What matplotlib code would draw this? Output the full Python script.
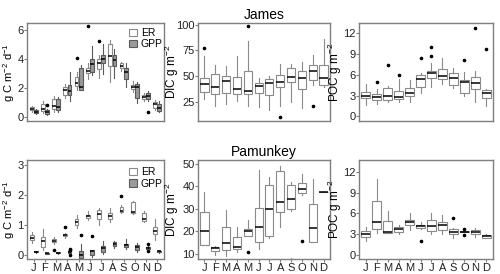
import numpy as np
from matplotlib import pyplot as plt

plt.rcParams['font.family'] = ['Liberation Sans', 'DejaVu Sans']
plt.rcParams['mathtext.fontset'] = 'custom'
plt.rcParams['mathtext.rm'] = 'Liberation Sans'
plt.rcParams['mathtext.it'] = 'Liberation Sans:italic'

months = ['J', 'F', 'M', 'A', 'M', 'J', 'J', 'A', 'S', 'O', 'N', 'D']

# James ER / GPP  (q1, med, q3, whisker lo, whisker hi)
james_er_q1 = [0.5, 0.45, 0.6, 1.55, 2.15, 3.05, 3.3, 3.5, 3.35, 1.95, 1.25, 0.65]
james_er_med = [0.6, 0.6, 0.8, 1.9, 2.35, 3.2, 3.7, 4.2, 3.55, 2.1, 1.4, 0.9]
james_er_q3 = [0.7, 0.9, 1.25, 2.1, 2.75, 3.4, 4.0, 5.0, 3.7, 2.2, 1.55, 1.05]
james_er_lo = [0.4, 0.3, 0.4, 1.3, 1.9, 2.6, 2.7, 2.4, 3.2, 1.75, 1.1, 0.5]
james_er_hi = [0.8, 1.1, 1.5, 2.3, 3.1, 3.7, 4.3, 5.3, 3.8, 2.5, 1.7, 1.2]
james_er_out = [[], [], [], [], [4.05], [6.25], [5.2], [], [], [], [], []]

james_gpp_q1 = [0.3, 0.25, 0.5, 1.55, 1.9, 3.1, 3.7, 3.5, 2.6, 1.35, 1.25, 0.45]
james_gpp_med = [0.4, 0.35, 0.7, 1.8, 2.05, 3.65, 4.0, 3.9, 3.1, 2.05, 1.5, 0.65]
james_gpp_q3 = [0.5, 0.5, 1.25, 2.25, 3.4, 4.0, 4.3, 4.3, 3.35, 2.3, 1.65, 0.9]
james_gpp_lo = [0.25, 0.15, 0.35, 1.1, 1.9, 2.9, 3.0, 2.7, 2.1, 1.0, 1.1, 0.35]
james_gpp_hi = [0.55, 0.6, 1.4, 3.1, 3.6, 4.9, 5.0, 4.7, 3.7, 2.4, 1.8, 1.15]
james_gpp_out = [[], [0.85], [], [], [], [], [], [], [], [], [0.4], []]

# James DIC
james_dic_q1 = [34, 32, 33, 32, 32, 33, 31, 39, 44, 37, 46, 41]
james_dic_med = [42, 39, 45, 37, 35, 40, 43, 44, 49, 48, 55, 48]
james_dic_q3 = [48, 52, 50, 49, 55, 43, 47, 51, 58, 55, 61, 61]
james_dic_lo = [28, 21, 23, 26, 21, 20, 17, 21, 25, 19, 41, 39]
james_dic_hi = [69, 61, 60, 69, 84, 48, 50, 62, 62, 64, 70, 86]
james_dic_out = [[77], [], [], [], [99], [], [], [10], [], [], [21], []]

# James POC
james_poc_q1 = [2.6, 2.3, 2.4, 2.5, 2.9, 4.2, 5.5, 5.3, 4.5, 3.4, 4.0, 2.6]
james_poc_med = [3.0, 2.8, 3.0, 2.8, 3.4, 5.3, 6.2, 5.8, 5.5, 4.9, 4.8, 3.3]
james_poc_q3 = [3.5, 3.2, 4.1, 3.7, 4.1, 6.0, 6.5, 6.8, 6.3, 5.2, 5.7, 3.8]
james_poc_lo = [1.6, 1.8, 2.0, 2.0, 2.1, 3.3, 4.2, 4.6, 4.1, 2.9, 2.0, 1.5]
james_poc_hi = [4.6, 3.9, 4.4, 5.3, 5.2, 6.2, 7.6, 8.4, 7.0, 6.4, 6.5, 4.0]
james_poc_out = [[], [5.0], [7.4], [5.9], [], [8.4], [8.7, 10.0], [], [], [8.1], [12.7], [9.7]]

# Pamunkey ER / GPP
pam_er_q1 = [0.5, 0.25, 0.42, 0.62, 1.0, 1.22, 1.2, 1.2, 1.43, 1.38, 1.12, 0.7]
pam_er_med = [0.58, 0.47, 0.48, 0.65, 1.1, 1.28, 1.35, 1.28, 1.45, 1.43, 1.2, 0.8]
pam_er_q3 = [0.68, 0.6, 0.53, 0.7, 1.2, 1.33, 1.5, 1.38, 1.6, 1.75, 1.4, 0.92]
pam_er_lo = [0.4, 0.15, 0.38, 0.58, 0.9, 1.15, 1.0, 1.1, 1.4, 1.35, 1.08, 0.5]
pam_er_hi = [0.75, 0.85, 0.6, 0.72, 1.32, 1.45, 1.55, 1.55, 1.65, 1.8, 1.47, 1.2]
pam_er_out = [[], [], [0.15], [0.93], [], [], [], [], [1.97], [], [], []]

pam_gpp_q1 = [0.09, 0.05, 0.06, 0.07, -0.1, 0.0, 0.1, 0.3, 0.27, 0.15, 0.2, 0.1]
pam_gpp_med = [0.1, 0.06, 0.08, 0.1, 0.0, 0.12, 0.22, 0.37, 0.32, 0.25, 0.23, 0.12]
pam_gpp_q3 = [0.12, 0.07, 0.09, 0.12, 0.12, 0.15, 0.3, 0.42, 0.38, 0.32, 0.25, 0.13]
pam_gpp_lo = [0.08, 0.04, 0.05, 0.07, -0.13, -0.05, 0.05, 0.22, 0.2, 0.1, 0.18, 0.08]
pam_gpp_hi = [0.13, 0.08, 0.1, 0.12, 0.35, 0.17, 0.45, 0.48, 0.52, 0.4, 0.3, 0.15]
pam_gpp_out = [[], [], [], [0.2, 0.15, 0.0], [0.67], [0.62], [], [], [], [], [0.38, 0.12], []]

# Pamunkey DIC
pam_dic_q1 = [14, 11, 11.5, 12, 18, 15, 18, 28.5, 30, 37, 15, 37.5]
pam_dic_med = [20, 12.5, 14.5, 13, 20, 22, 30, 33, 34.5, 39, 21.5, 37.5]
pam_dic_q3 = [28.5, 13, 22, 17.5, 21, 30.5, 40.5, 47, 40.5, 41.5, 32, 37.5]
pam_dic_lo = [14, 9.5, 9, 10.5, 18, 12, 17, 22, 29, 36, 15, 37.5]
pam_dic_hi = [37.5, 13.5, 29.5, 22, 25, 47.5, 44, 49, 42, 45.5, 43.5, 37.5]
pam_dic_out = [[], [], [], [], [10.5], [], [], [], [7], [15.5], [], []]

# Pamunkey POC
pam_poc_q1 = [2.6, 3.8, 3.2, 3.3, 4.3, 3.9, 3.5, 3.6, 3.0, 3.4, 3.0, 2.5]
pam_poc_med = [3.1, 4.7, 3.3, 3.7, 4.8, 4.2, 4.2, 4.3, 3.4, 3.4, 3.3, 2.7]
pam_poc_q3 = [3.5, 7.8, 4.9, 4.1, 5.1, 4.4, 5.1, 4.7, 3.8, 3.45, 3.6, 2.9]
pam_poc_lo = [2.0, 3.2, 3.2, 3.0, 3.6, 3.7, 3.1, 3.0, 2.4, 3.4, 2.6, 2.4]
pam_poc_hi = [4.1, 10.9, 6.4, 4.4, 6.1, 4.8, 6.1, 5.8, 3.9, 3.45, 3.9, 3.1]
pam_poc_out = [[], [], [], [], [], [2.0], [], [], [5.4], [3.8, 2.9], [], []]

FRAME = '#7f7f7f'


def make_stats(q1, med, q3, lo, hi, out):
	stats = []
	for k in range(len(med)):
		stats.append({'q1': q1[k], 'med': med[k], 'q3': q3[k],
		              'whislo': lo[k], 'whishi': hi[k], 'fliers': out[k]})
	return stats


def draw_box(ax, stats, pos, width, face, edge):
	ax.bxp(stats, positions=pos, widths=width, patch_artist=True, manage_ticks=False,
	       boxprops=dict(facecolor=face, edgecolor=edge, linewidth=0.8),
	       whiskerprops=dict(color=edge, linewidth=0.8),
	       capprops=dict(linewidth=0),
	       medianprops=dict(color='black', linewidth=1.1),
	       flierprops=dict(marker='o', markersize=1.6, markerfacecolor='black',
	                       markeredgecolor='black'))


def style_axes(ax, ylim, yticks, ylabel, bottom_row, lab_x, lab_size):
	ax.set_xlim(0.4, 12.6)
	ax.set_ylim(ylim)
	ax.set_yticks(yticks)
	for s in ax.spines.values():
		s.set_color(FRAME)
		s.set_linewidth(1.0)
	ax.tick_params(axis='y', labelsize=8, length=2, color=FRAME, pad=0.5, labelcolor='#222222')
	if bottom_row:
		ax.set_xticks(np.arange(1, 13))
		ax.set_xticklabels(months)
		ax.tick_params(axis='x', labelsize=8, length=2, color=FRAME, pad=1, labelcolor='#222222')
	else:
		ax.set_xticks([])
	ax.set_ylabel(ylabel, fontsize=lab_size)
	ax.yaxis.set_label_coords(lab_x, 0.5)


fig = plt.figure(figsize=(5, 2.74), dpi=100)
lefts = [0.054, 0.396, 0.718]
widths = [0.274, 0.264, 0.268]
rows = [(0.558, 0.358), (0.055, 0.361)]

pos = np.arange(1, 13)
met_label = 'g C m$^{-2}$ d$^{-1}$'

for r, site in enumerate(['James', 'Pamunkey']):
	bot, h = rows[r]
	axs = [fig.add_axes([lefts[c], bot, widths[c], h]) for c in range(3)]
	if site == 'James':
		er = make_stats(james_er_q1, james_er_med, james_er_q3, james_er_lo, james_er_hi, james_er_out)
		gpp = make_stats(james_gpp_q1, james_gpp_med, james_gpp_q3, james_gpp_lo, james_gpp_hi, james_gpp_out)
		dic = make_stats(james_dic_q1, james_dic_med, james_dic_q3, james_dic_lo, james_dic_hi, james_dic_out)
		poc = make_stats(james_poc_q1, james_poc_med, james_poc_q3, james_poc_lo, james_poc_hi, james_poc_out)
		lims = [(-0.25, 6.46), (6, 101.5), (-0.67, 13.4)]
		ticks = [[0, 2, 4, 6], [25, 50, 75, 100], [0, 3, 6, 9, 12]]
		leg_top = 0.95
	else:
		er = make_stats(pam_er_q1, pam_er_med, pam_er_q3, pam_er_lo, pam_er_hi, pam_er_out)
		gpp = make_stats(pam_gpp_q1, pam_gpp_med, pam_gpp_q3, pam_gpp_lo, pam_gpp_hi, pam_gpp_out)
		dic = make_stats(pam_dic_q1, pam_dic_med, pam_dic_q3, pam_dic_lo, pam_dic_hi, pam_dic_out)
		poc = make_stats(pam_poc_q1, pam_poc_med, pam_poc_q3, pam_poc_lo, pam_poc_hi, pam_poc_out)
		lims = [(-0.13, 3.15), (7.6, 51.8), (-0.55, 13.7)]
		ticks = [[0, 1, 2, 3], [10, 20, 30, 40, 50], [0, 3, 6, 9, 12]]
		leg_top = 0.93

	draw_box(axs[0], er, pos - 0.19, 0.34, 'white', '#8a8a8a')
	draw_box(axs[0], gpp, pos + 0.19, 0.34, '#9a9a9a', '#5a5a5a')
	draw_box(axs[1], dic, pos, 0.75, 'white', '#8a8a8a')
	draw_box(axs[2], poc, pos, 0.75, 'white', '#8a8a8a')

	style_axes(axs[0], lims[0], ticks[0], met_label, r == 1, -0.072, 8)
	style_axes(axs[1], lims[1], ticks[1], 'DIC g m$^{-2}$', r == 1, -0.13, 8.5)
	style_axes(axs[2], lims[2], ticks[2], 'POC g m$^{-2}$', r == 1, -0.11, 8.5)
	axs[1].set_title(site, fontsize=10, pad=3)

	# legend
	h1 = plt.Rectangle((0, 0), 1, 1, facecolor='white', edgecolor='#8a8a8a', linewidth=0.8)
	h2 = plt.Rectangle((0, 0), 1, 1, facecolor='#9a9a9a', edgecolor='#5a5a5a', linewidth=0.8)
	axs[0].legend([h1, h2], ['ER', 'GPP'], loc='upper right', fontsize=7.5, frameon=False,
	              handlelength=0.7, handleheight=0.7, handletextpad=0.4, labelspacing=0.15,
	              borderaxespad=0, borderpad=0, bbox_to_anchor=(0.99, leg_top))

fig.savefig('out.png', dpi=100)
